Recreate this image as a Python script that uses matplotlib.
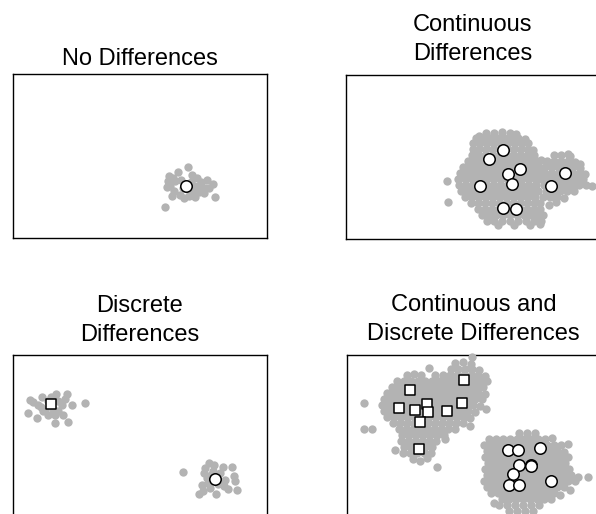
import matplotlib
matplotlib.use('Agg')
import matplotlib.pyplot as plt

plt.rcParams['font.family'] = ['Liberation Sans', 'DejaVu Sans']

GRAY = '#b3b3b3'
TITLES = ['No Differences', 'Continuous\nDifferences',
          'Discrete\nDifferences', 'Continuous and\nDiscrete Differences']

# ---- panel 1: no differences ----
nodiff_gray = [(175, 71), (165, 66), (156, 62), (155, 57), (154, 51), (157, 52), (161, 47), (159, 42),
               (167, 43), (171, 40), (176, 42), (182, 41), (182, 45), (191, 45), (202, 41), (200, 54),
               (194, 58), (184, 60), (179, 63), (181, 52), (186, 52), (176, 48), (162, 57), (152, 31),
               (170, 50), (178, 56), (188, 56), (192, 50), (168, 58), (186, 46), (196, 50), (160, 60)]
nodiff_circles = [(173, 52)]

# ---- panel 2: continuous differences ----
cont_gray = [
    (140, 106), (148, 106), (156, 107), (164, 106), (170, 105), (133, 103),
    (130, 101), (137, 101), (144, 101), (151, 101), (158, 101), (165, 101), (172, 101), (179, 100),
    (127, 96), (134, 96), (141, 96), (148, 96), (155, 96), (162, 96), (169, 96), (176, 96), (182, 96),
    (127, 90), (133, 90), (140, 90), (147, 90), (154, 90), (161, 90), (168, 90), (175, 90), (182, 90), (187, 89),
    (126, 84), (132, 84), (139, 84), (146, 84), (153, 84), (160, 84), (167, 84), (174, 84), (181, 84), (188, 84),
    (208, 84), (215, 84), (222, 85),
    (122, 78), (128, 78), (135, 78), (142, 78), (149, 78), (156, 78), (163, 78), (170, 78), (177, 78), (184, 78),
    (191, 78), (195, 79), (201, 78), (208, 78), (215, 78), (222, 78), (229, 77),
    (117, 72), (123, 72), (130, 72), (137, 72), (144, 72), (151, 72), (158, 72), (165, 72), (172, 72), (179, 72),
    (186, 72), (193, 72), (199, 72), (206, 72), (213, 72), (220, 72), (227, 72), (234, 71),
    (114, 66), (121, 66), (128, 66), (135, 66), (142, 66), (149, 66), (156, 66), (163, 66), (170, 66), (177, 66),
    (184, 66), (191, 66), (198, 66), (205, 66), (212, 66), (219, 66), (226, 66), (233, 66), (239, 65),
    (112, 60), (119, 60), (126, 60), (133, 60), (140, 60), (147, 60), (154, 60), (161, 60), (168, 60), (175, 60),
    (182, 60), (189, 60), (195, 60), (202, 60), (209, 60), (216, 60), (223, 60), (230, 60), (237, 60),
    (113, 54), (120, 54), (127, 54), (134, 54), (141, 54), (148, 54), (155, 54), (162, 54), (169, 54), (176, 54),
    (183, 54), (190, 54), (198, 54), (205, 54), (212, 54), (219, 54), (226, 54), (233, 54), (240, 54),
    (115, 48), (122, 48), (129, 48), (136, 48), (143, 48), (150, 48), (157, 48), (164, 48), (171, 48), (178, 48),
    (185, 48), (192, 48), (200, 48), (207, 48), (214, 48), (221, 48), (228, 48),
    (119, 42), (126, 42), (133, 42), (140, 42), (147, 42), (154, 42), (161, 42), (168, 42), (175, 42), (182, 42),
    (189, 42), (197, 42), (204, 42), (211, 42), (218, 41),
    (125, 36), (132, 36), (139, 36), (146, 36), (153, 36), (160, 36), (167, 36), (174, 36), (181, 36), (188, 36),
    (194, 36), (203, 34), (210, 37),
    (132, 30), (139, 30), (146, 30), (153, 30), (160, 30), (167, 30), (174, 30), (181, 30), (188, 30), (194, 30),
    (136, 24), (143, 24), (150, 24), (157, 24), (164, 24), (171, 24), (178, 24), (185, 24), (192, 24), (197, 24),
    (141, 18), (148, 18), (156, 18), (164, 18), (172, 18), (180, 18), (188, 18), (195, 18),
    (152, 14), (168, 14), (184, 14), (194, 15),
    (101, 58), (102, 37), (246, 53), (234, 75), (224, 83), (179, 98)]
cont_circles = [(157, 89), (143, 80), (174, 70), (162, 65), (166, 55),
                (134, 53), (157, 31), (170, 30), (205, 53), (219, 66)]

# ---- panel 3: discrete differences ----
disc_gray = [(17, 119), (29, 122), (43, 125), (54, 125), (59, 114), (72, 116), (15, 106), (24, 101),
             (42, 96), (55, 97), (32, 109), (45, 108), (49, 114), (25, 114), (35, 104), (20, 117),
             (35, 118), (45, 118), (40, 110), (28, 112), (50, 104), (52, 120), (38, 122), (30, 108), (42, 104),
             (170, 47), (192, 51), (201, 54), (196, 56), (219, 52), (221, 43), (222, 38), (224, 29),
             (186, 25), (203, 25), (189, 34), (194, 41), (191, 46), (211, 33), (212, 39), (207, 46),
             (197, 31), (200, 48), (195, 36), (205, 35), (210, 52), (198, 44), (215, 30), (190, 28)]
disc_squares = [(38, 115)]
disc_circles = [(202, 40)]

# ---- panel 4: continuous and discrete differences ----
both_gray = [
    (125, 162), (108, 156), (116, 157), (124, 155),
    (82, 151), (104, 150), (111, 150), (118, 150), (125, 150), (132, 149),
    (60, 144), (67, 145), (74, 144), (88, 144), (96, 144), (103, 144), (110, 144), (117, 144), (124, 144),
    (131, 144), (138, 143),
    (50, 138), (57, 138), (64, 138), (71, 138), (78, 138), (85, 138), (92, 138), (99, 138), (106, 138),
    (113, 138), (120, 138), (127, 138), (134, 138), (140, 138),
    (45, 132), (52, 132), (59, 132), (66, 132), (73, 132), (80, 132), (87, 132), (94, 132), (101, 132),
    (108, 132), (115, 132), (122, 132), (129, 132), (136, 132),
    (40, 126), (47, 126), (54, 126), (61, 126), (68, 126), (75, 126), (82, 126), (89, 126), (96, 126),
    (103, 126), (110, 126), (117, 126), (124, 126), (131, 126), (138, 125),
    (37, 120), (44, 120), (51, 120), (58, 120), (65, 120), (72, 120), (79, 120), (86, 120), (93, 120),
    (100, 120), (107, 120), (114, 120), (121, 120), (128, 120), (135, 120),
    (17, 116), (35, 114), (42, 114), (49, 114), (56, 114), (63, 114), (70, 114), (77, 114), (84, 114),
    (91, 114), (98, 114), (105, 114), (112, 114), (119, 114), (126, 114), (133, 113), (139, 110),
    (37, 108), (44, 108), (51, 108), (58, 108), (65, 108), (72, 108), (79, 108), (86, 108), (93, 108),
    (100, 108), (107, 108), (114, 108), (121, 108), (128, 107),
    (40, 102), (47, 102), (54, 102), (61, 102), (68, 102), (75, 102), (82, 102), (89, 102), (96, 102),
    (103, 102), (110, 102), (117, 102), (123, 101),
    (46, 96), (53, 96), (60, 96), (67, 96), (74, 96), (81, 96), (88, 96), (95, 96), (102, 96),
    (109, 96), (116, 96), (123, 93),
    (17, 90), (25, 90), (52, 90), (59, 90), (66, 90), (73, 90), (80, 90), (87, 90), (94, 90), (101, 90), (108, 90),
    (55, 84), (62, 84), (69, 84), (76, 84), (83, 84), (90, 84), (97, 84),
    (54, 78), (61, 78), (68, 78), (75, 78), (82, 78), (89, 78), (98, 80),
    (48, 69), (57, 72), (64, 72), (71, 72), (78, 72), (85, 72),
    (56, 66), (63, 66), (70, 66), (77, 66), (84, 66),
    (66, 60), (73, 58), (80, 61), (90, 52),
    (172, 86), (180, 86), (188, 86),
    (142, 80), (149, 80), (156, 80), (163, 80), (170, 80), (177, 80), (184, 80), (191, 80), (198, 80), (205, 81),
    (137, 74), (144, 74), (151, 74), (158, 74), (165, 74), (172, 74), (179, 74), (186, 74), (193, 74), (200, 74),
    (207, 74), (214, 74), (221, 75),
    (140, 68), (147, 68), (154, 68), (161, 68), (168, 68), (175, 68), (182, 68), (189, 68), (196, 68), (203, 68),
    (210, 68), (217, 67),
    (138, 62), (145, 62), (152, 62), (159, 62), (166, 62), (173, 62), (180, 62), (187, 62), (194, 62), (201, 62),
    (208, 62), (215, 62), (221, 62),
    (141, 56), (148, 56), (155, 56), (162, 56), (169, 56), (176, 56), (183, 56), (190, 56), (197, 56), (204, 56),
    (211, 56), (218, 56),
    (138, 50), (145, 50), (152, 50), (159, 50), (166, 50), (173, 50), (180, 50), (187, 50), (194, 50), (201, 50),
    (208, 50), (215, 50), (222, 50),
    (140, 44), (147, 44), (154, 44), (161, 44), (168, 44), (175, 44), (182, 44), (189, 44), (196, 44), (203, 44),
    (210, 44), (217, 44), (224, 44), (231, 42), (241, 42),
    (137, 38), (144, 38), (151, 38), (158, 38), (165, 38), (172, 38), (179, 38), (186, 38), (193, 38), (200, 38),
    (207, 38), (214, 38), (221, 38), (228, 38),
    (140, 32), (147, 32), (154, 32), (161, 32), (168, 32), (175, 32), (182, 32), (189, 32), (196, 32), (203, 32),
    (210, 32), (217, 32), (223, 29),
    (144, 26), (151, 26), (158, 26), (165, 26), (172, 26), (179, 26), (186, 26), (193, 26), (200, 26), (207, 26),
    (213, 24),
    (147, 16), (155, 20), (162, 20), (169, 20), (176, 20), (183, 20), (190, 20), (197, 20), (204, 20),
    (152, 14), (160, 14), (168, 14), (176, 14), (184, 14), (192, 14),
    (162, 8), (170, 8), (178, 8), (186, 8)]
both_squares = [(63, 129), (117, 139), (52, 111), (68, 109), (80, 115),
                (81, 107), (100, 108), (115, 116), (73, 97), (72, 70)]
both_circles = [(161, 69), (171, 69), (193, 71), (172, 54), (184, 54),
                (184, 53), (166, 45), (162, 34), (172, 34), (204, 38)]

panels = [
    (nodiff_gray, [], nodiff_circles),
    (cont_gray, [], cont_circles),
    (disc_gray, disc_squares, disc_circles),
    (both_gray, both_squares, both_circles),
]
# axes rectangles in figure fractions (the right/bottom panels run off the canvas)
rects = [[0.0213, 0.5364, 0.4262, 0.3191],
         [0.5805, 0.5358, 0.4262, 0.3191],
         [0.0213, -0.0103, 0.4262, 0.3191],
         [0.5817, -0.0089, 0.4262, 0.3191]]

fig = plt.figure(figsize=(5.96, 5.14), dpi=100)
for (gray, squares, circles), rect, title in zip(panels, rects, TITLES):
    ax = fig.add_axes(rect)
    gx, gy = zip(*gray)
    ax.scatter(gx, gy, s=36, color=GRAY, linewidths=0, clip_on=False, zorder=3)
    if squares:
        sx, sy = zip(*squares)
        ax.scatter(sx, sy, s=48, marker='s', facecolor='white', edgecolor='black',
                   linewidths=1.1, clip_on=False, zorder=4)
    if circles:
        cx, cy = zip(*circles)
        ax.scatter(cx, cy, s=68, marker='o', facecolor='white', edgecolor='black',
                   linewidths=1.1, clip_on=False, zorder=4)
    ax.set_xlim(0, 254); ax.set_ylim(0, 164)
    ax.set_xticks([]); ax.set_yticks([])
    for sp in ax.spines.values():
        sp.set_linewidth(1.0)
    pad = 10.5 if '\n' in title else 7
    ax.set_title(title, fontsize=17, linespacing=1.4, pad=pad)

fig.savefig('out.png', dpi=100)
